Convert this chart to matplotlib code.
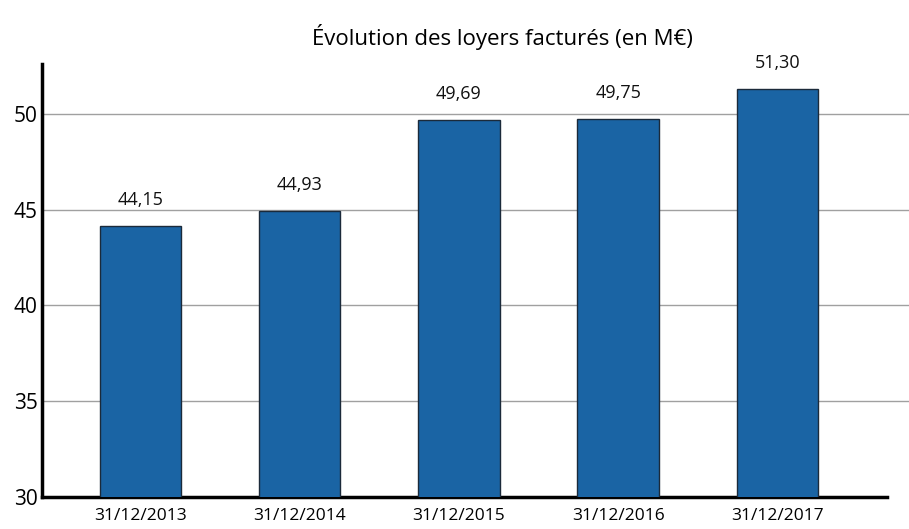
import matplotlib
matplotlib.use("Agg")
import matplotlib.pyplot as plt

categories = ["31/12/2013", "31/12/2014", "31/12/2015", "31/12/2016", "31/12/2017"]
values = [44.15, 44.93, 49.69, 49.75, 51.30]
labels = ["44,15", "44,93", "49,69", "49,75", "51,30"]
yticks = [30, 35, 40, 45, 50]

plt.rcParams['font.family'] = ['Open Sans', 'DejaVu Sans']

fig = plt.figure(figsize=(9.09, 5.29), dpi=100)
ax = fig.add_axes([0.0462, 0.0605, 0.9296, 0.8185])

x = list(range(len(categories)))
bars = ax.bar(x, values, width=0.51, color="#1a64a4", edgecolor="#1b2a3a", linewidth=1.0, zorder=3)
for xi, v, lab in zip(x, values, labels):
    ax.text(xi, v + 1.35, lab, ha="center", va="center", fontsize=13, color="#111111")

ax.set_ylim(30, 52.6)
ax.set_xlim(-0.62, 4.69)
ax.set_yticks(yticks)
ax.set_yticklabels([str(t) for t in yticks], fontsize=15)
ax.set_xticks(x)
ax.set_xticklabels(categories, fontsize=12.5)
ax.tick_params(axis="both", length=0, pad=3)
ax.tick_params(axis="x", pad=8)

for t in [35, 40, 45, 50]:
    ax.axhline(t, color="#a0a0a0", linewidth=1.0, zorder=1, clip_on=False, xmax=1.03)

for s in ["top", "right"]:
    ax.spines[s].set_visible(False)
ax.spines["left"].set_linewidth(2.5)
ax.spines["bottom"].set_linewidth(2.5)

fig.text(0.553, 0.93, "Évolution des loyers facturés (en M€)", ha="center", va="center", fontsize=16)

fig.savefig("out.png", dpi=100)
